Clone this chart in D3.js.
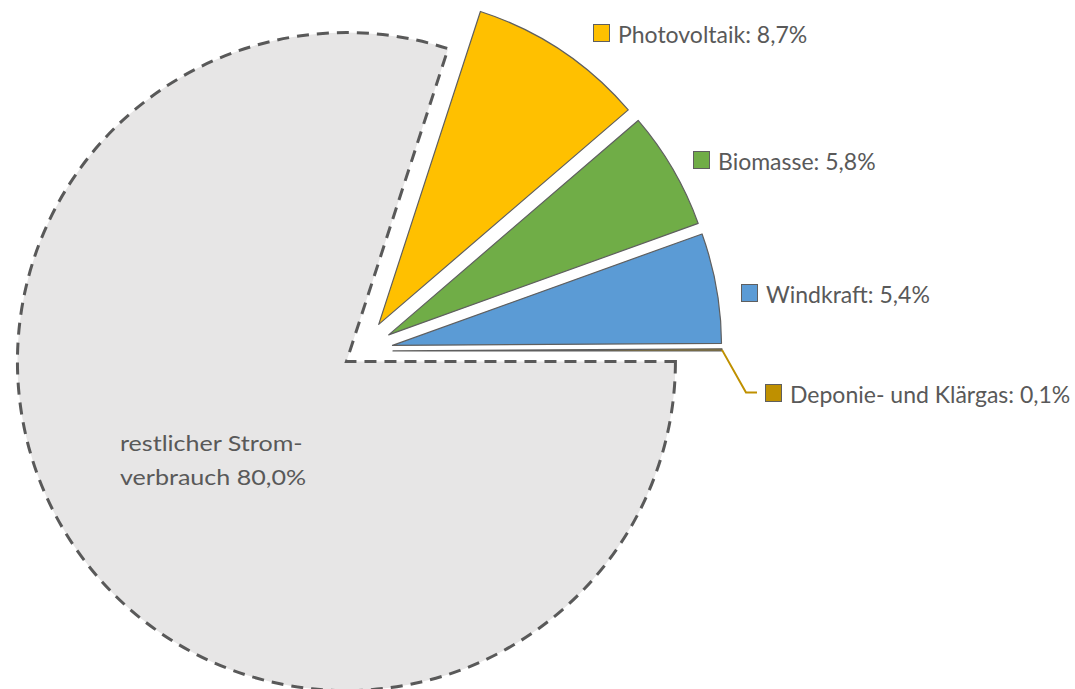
<!DOCTYPE html>
<html><head><meta charset="utf-8">
<script src="https://cdn.jsdelivr.net/npm/d3@7"></script>
<style>html,body{margin:0;padding:0;background:#fff;}svg{display:block;}</style>
</head><body>
<svg id="chart" width="1075" height="689"></svg>
<script>
// ---- data ----
const categories = ["Photovoltaik", "Biomasse", "Windkraft", "Deponie- und Klärgas", "restlicher Stromverbrauch"];
const values = [8.7, 5.8, 5.4, 0.1, 80.0];
const valueLabels = ["8,7%", "5,8%", "5,4%", "0,1%", "80,0%"];
const colors = ["#FFC000", "#70AD47", "#5B9BD5", "#BF9000", "#E7E6E6"];

// ---- layout ----
const cx = 361, cy = 351, R = 329;
const explodeColored = 32, explodeRest = 18;
const textColor = "#595959";
const font = "Lato, 'Open Sans', sans-serif";

const svg = d3.select("#chart");
const g = svg.append("g").attr("transform", `translate(${cx},${cy})`);

const pie = d3.pie().sort(null).value(d => d.value)
  .startAngle(18 * Math.PI / 180).endAngle(18 * Math.PI / 180 + 2 * Math.PI);
const data = categories.map((c, i) => ({ name: c, value: values[i], label: valueLabels[i], color: colors[i], i }));
const arcs = pie(data);
const arc = d3.arc().innerRadius(0).outerRadius(R);

function offset(d) {
  const a = (d.startAngle + d.endAngle) / 2;
  const e = d.data.i === 4 ? explodeRest : explodeColored;
  return [e * Math.sin(a), -e * Math.cos(a)];
}

const order = [4, 0, 1, 2, 3];
order.forEach(k => {
  const d = arcs[k];
  const [ox, oy] = offset(d);
  const p = g.append("path")
    .attr("transform", `translate(${ox},${oy})`)
    .attr("d", arc(d))
    .attr("fill", d.data.color);
  if (k === 4) {
    p.attr("stroke", "#595959").attr("stroke-width", 3).attr("stroke-dasharray", "12,8").attr("stroke-linejoin", "miter");
  } else {
    p.attr("stroke", "#5f5f5f").attr("stroke-width", 1.2).attr("stroke-linejoin", "round");
  }
});

// labels for colored slices (legend-key style)
const labelPos = [
  { x: 593, y: 24 },
  { x: 693, y: 151 },
  { x: 741, y: 284 },
  { x: 765, y: 384 }
];
[0, 1, 2, 3].forEach(k => {
  const d = arcs[k];
  const lp = labelPos[k];
  svg.append("rect").attr("x", lp.x + 0.5).attr("y", lp.y + 0.5).attr("width", 16).attr("height", 17)
    .attr("fill", d.data.color).attr("stroke", "#5f5f5f").attr("stroke-width", 1);
  svg.append("text").attr("x", lp.x + 25).attr("y", lp.y + 19)
    .attr("font-family", font).attr("font-size", 23).attr("font-weight", 400)
    .attr("fill", textColor).text(`${d.data.name}: ${d.data.label}`);
});

// leader line for Deponie
{
  const d = arcs[3];
  const a = (d.startAngle + d.endAngle) / 2;
  const [ox, oy] = offset(d);
  const x0 = cx + ox + R * Math.sin(a), y0 = cy + oy - R * Math.cos(a);
  const lp = labelPos[3];
  const ly = lp.y + 8.5;
  svg.append("path")
    .attr("d", d3.line()([[x0, y0], [lp.x - 19, ly], [lp.x - 8, ly]]))
    .attr("fill", "none").attr("stroke", d.data.color).attr("stroke-width", 2);
}

// label inside rest slice (wider letterforms in the reference)
const rg = svg.append("g").attr("transform", "translate(120,0) scale(1.14,1)");
const rt = rg.append("text").attr("font-family", font).attr("font-size", 22).attr("font-weight", 400).attr("fill", textColor);
rt.append("tspan").attr("x", 0).attr("y", 451).text("restlicher Strom-");
rt.append("tspan").attr("x", 0).attr("y", 485).text("verbrauch " + valueLabels[4]);
</script>
</body></html>
